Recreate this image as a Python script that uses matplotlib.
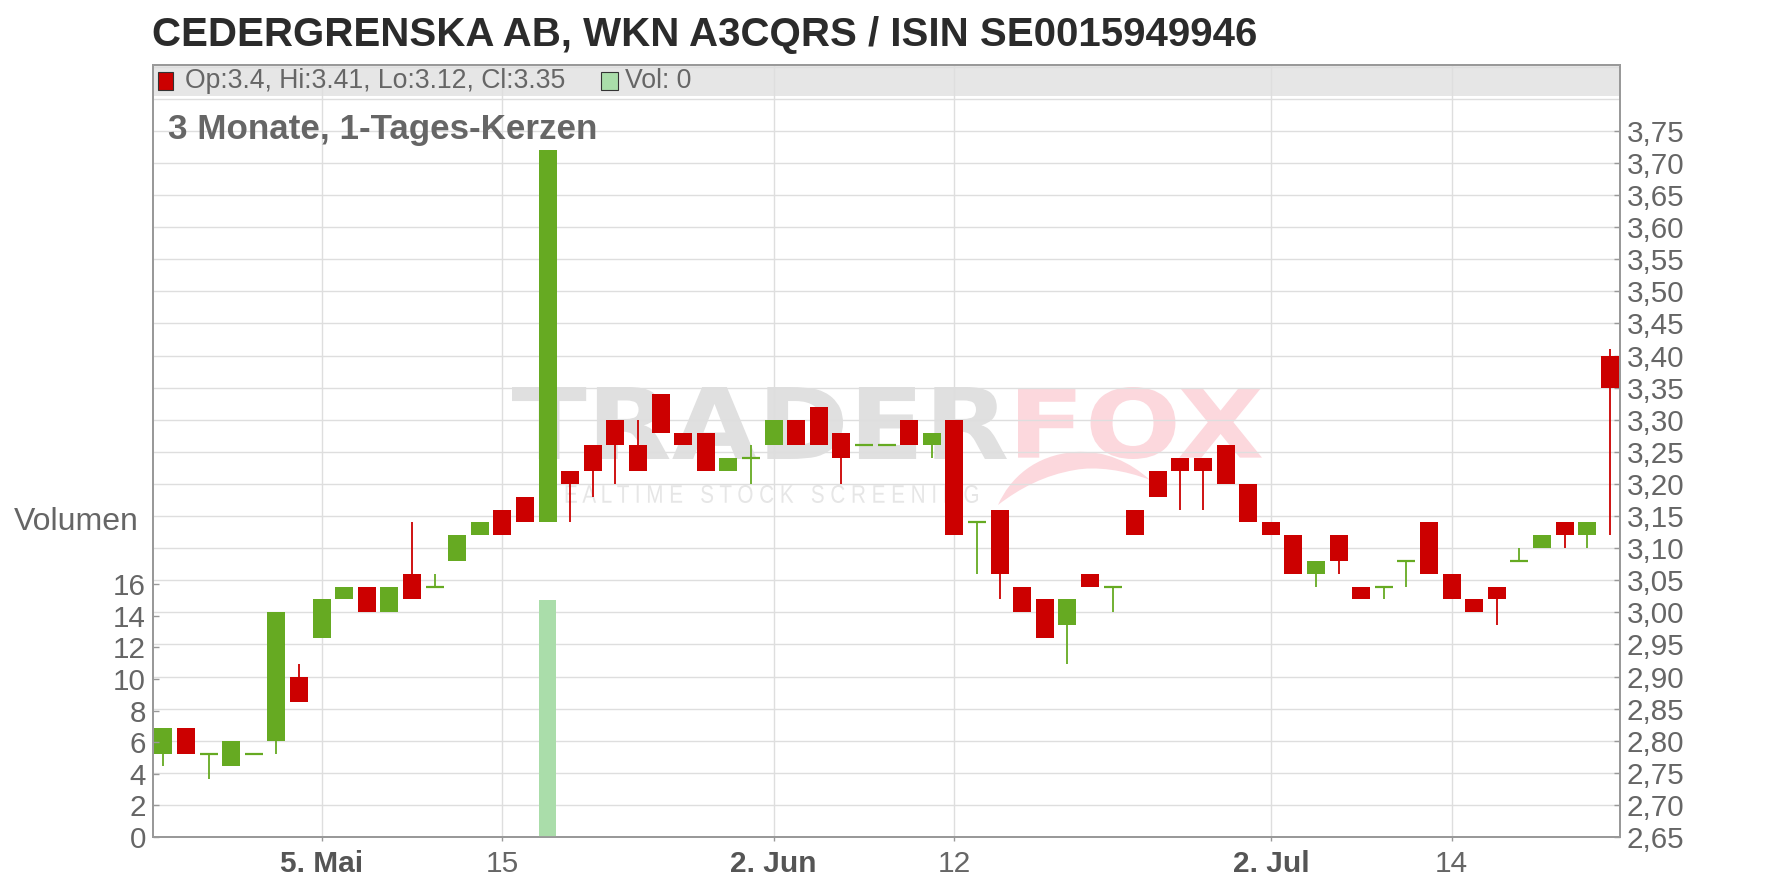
import numpy as np
import pandas as pd
import matplotlib
matplotlib.use("Agg")
import matplotlib.pyplot as plt
from matplotlib.patches import Rectangle, PathPatch
from matplotlib.path import Path
from matplotlib.textpath import TextPath
from matplotlib.font_manager import FontProperties
from matplotlib.transforms import Affine2D, IdentityTransform

plt.rcParams['font.family'] = ['Liberation Sans', 'DejaVu Sans']

# ---------------- data ----------------
title = "CEDERGRENSKA AB, WKN A3CQRS / ISIN SE0015949946"
subtitle = "3 Monate, 1-Tages-Kerzen"
dates = pd.bdate_range("2025-04-24", "2025-07-23")

opens = [2.78, 2.82, 2.78, 2.76, 2.78, 2.80, 2.90, 2.96, 3.02, 3.04,
         3.00, 3.06, 3.04, 3.08, 3.12, 3.16, 3.18, 3.14, 3.22, 3.26,
         3.30, 3.26, 3.34, 3.28, 3.28, 3.22, 3.24, 3.26, 3.30, 3.32,
         3.28, 3.26, 3.26, 3.30, 3.26, 3.30, 3.14, 3.16, 3.04, 3.02,
         2.98, 3.06, 3.04, 3.16, 3.22, 3.24, 3.24, 3.26, 3.20, 3.14,
         3.12, 3.06, 3.12, 3.04, 3.04, 3.08, 3.14, 3.06, 3.02, 3.04,
         3.08, 3.10, 3.14, 3.12, 3.40]
highs = [2.82, 2.82, 2.78, 2.80, 2.78, 3.00, 2.92, 3.02, 3.04, 3.04,
         3.04, 3.14, 3.06, 3.12, 3.14, 3.16, 3.18, 3.72, 3.22, 3.26,
         3.30, 3.30, 3.34, 3.28, 3.28, 3.24, 3.26, 3.30, 3.30, 3.32,
         3.28, 3.26, 3.26, 3.30, 3.28, 3.30, 3.14, 3.16, 3.04, 3.02,
         3.02, 3.06, 3.04, 3.16, 3.22, 3.24, 3.24, 3.26, 3.20, 3.14,
         3.12, 3.08, 3.12, 3.04, 3.04, 3.08, 3.14, 3.06, 3.02, 3.04,
         3.10, 3.12, 3.14, 3.14, 3.41]
lows = [2.76, 2.78, 2.74, 2.76, 2.78, 2.78, 2.86, 2.96, 3.02, 3.00,
        3.00, 3.02, 3.04, 3.08, 3.12, 3.12, 3.14, 3.14, 3.14, 3.18,
        3.20, 3.22, 3.28, 3.26, 3.22, 3.22, 3.20, 3.26, 3.26, 3.26,
        3.20, 3.26, 3.26, 3.26, 3.24, 3.12, 3.06, 3.02, 3.00, 2.96,
        2.92, 3.04, 3.00, 3.12, 3.18, 3.16, 3.16, 3.20, 3.14, 3.12,
        3.06, 3.04, 3.06, 3.02, 3.02, 3.04, 3.06, 3.02, 3.00, 2.98,
        3.08, 3.10, 3.10, 3.10, 3.12]
closes = [2.82, 2.78, 2.78, 2.80, 2.78, 3.00, 2.86, 3.02, 3.04, 3.00,
          3.04, 3.02, 3.04, 3.12, 3.14, 3.12, 3.14, 3.72, 3.20, 3.22,
          3.26, 3.22, 3.28, 3.26, 3.22, 3.24, 3.24, 3.30, 3.26, 3.26,
          3.24, 3.26, 3.26, 3.26, 3.28, 3.12, 3.14, 3.06, 3.00, 2.96,
          3.02, 3.04, 3.04, 3.12, 3.18, 3.22, 3.22, 3.20, 3.14, 3.12,
          3.06, 3.08, 3.08, 3.02, 3.04, 3.08, 3.06, 3.02, 3.00, 3.02,
          3.08, 3.12, 3.12, 3.14, 3.35]
volumes = [0] * 17 + [15] + [0] * 47

tick_dates = ["2025-05-05", "2025-05-15", "2025-06-02", "2025-06-12", "2025-07-02", "2025-07-14"]
tick_labels = ["5. Mai", "15", "2. Jun", "12", "2. Jul", "14"]
tick_bold = [True, False, True, False, True, False]

price_ticks = [2.65, 2.70, 2.75, 2.80, 2.85, 2.90, 2.95, 3.00, 3.05, 3.10, 3.15,
               3.20, 3.25, 3.30, 3.35, 3.40, 3.45, 3.50, 3.55, 3.60, 3.65, 3.70, 3.75]
vol_ticks = [0, 2, 4, 6, 8, 10, 12, 14, 16]

# ---------------- styling ----------------
W, H = 1776, 888
GREEN = "#66aa22"
RED = "#cc0000"
VOLC = "#aaddaa"
GRID = "#dedede"
AXC = "#999999"
TXT = "#666666"

fig = plt.figure(figsize=(W / 100, H / 100), dpi=100)
L, R, T, B = 153, 1620, 65, 837
ax = fig.add_axes([L / W, (H - B) / H, (R - L) / W, (B - T) / H])
axv = ax.twinx()

o = np.array(opens); h = np.array(highs); l = np.array(lows); c = np.array(closes)
x = np.arange(len(o))
up = c >= o
cols = np.where(up, GREEN, RED)

ax.set_xlim(-0.46, 64.45)
ax.set_ylim(2.65, 2.65 + (B - T) / 642.0)
ax.set_axisbelow(True)

# wicks
ax.vlines(x, l, h, colors=cols, lw=1.3, zorder=2)
# bodies
body = np.abs(c - o)
ax.bar(x, body, bottom=np.minimum(o, c), width=0.8, color=cols, zorder=3, linewidth=0)
doji = body == 0
ax.hlines(o[doji], x[doji] - 0.4, x[doji] + 0.4, colors=cols[doji], lw=1.6, zorder=3)

# volume
axv.bar(x, volumes, width=0.72, color=VOLC, linewidth=0, zorder=2)
axv.set_ylim(0, (B - T) / 15.81)

# grid
grid_levels = np.round(np.arange(2.65, 3.851, 0.05), 2)
for g in grid_levels:
    ax.axhline(g, color=GRID, lw=1.0, zorder=0.5)
tick_idx = [int(np.where(dates == pd.Timestamp(d))[0][0]) for d in tick_dates]
for ti in tick_idx:
    ax.axvline(ti, color=GRID, lw=1.0, zorder=0.5)

# price axis on right
ax.yaxis.tick_right()
ax.set_yticks(price_ticks)
ax.set_yticklabels([f"{p:.2f}".replace(".", ",") for p in price_ticks])
ax.tick_params(axis='y', direction='in', length=4, width=1, color=AXC,
               labelsize=21.3, labelcolor=TXT, pad=5)

# volume axis on left
axv.yaxis.tick_left()
axv.set_yticks(vol_ticks)
axv.tick_params(axis='y', direction='in', length=4, width=1, color=AXC,
                labelsize=21.3, labelcolor=TXT, pad=5)

# x axis
ax.set_xticks(tick_idx)
ax.set_xticklabels(tick_labels)
ax.tick_params(axis='x', direction='out', length=3, width=1, color=AXC,
               labelsize=21.5, labelcolor=TXT, pad=6)
for lab, b in zip(ax.get_xticklabels(), tick_bold):
    if b:
        lab.set_fontweight('bold')
        lab.set_color("#555555")
axv.tick_params(axis='x', length=0)

for a in (ax, axv):
    for s in a.spines.values():
        s.set_color(AXC)
        s.set_linewidth(1.3)

# legend band
ax.add_patch(Rectangle((0, (B - 96) / (B - T)), 1, (96 - T) / (B - T),
                       transform=ax.transAxes, facecolor="#e6e6e6",
                       edgecolor='none', zorder=0.3))


def fx(px):
    return px / W


def fy(py):
    return 1 - py / H


fig.patches.append(Rectangle((fx(158), fy(90)), 15 / W, 18 / H, transform=fig.transFigure,
                             facecolor=RED, edgecolor="#333333", lw=0.8, zorder=5))
fig.patches.append(Rectangle((fx(601), fy(90)), 17 / W, 18 / H, transform=fig.transFigure,
                             facecolor=VOLC, edgecolor="#333333", lw=0.8, zorder=5))
fig.text(fx(185), fy(81), f"Op:{opens[-1]:g}, Hi:{highs[-1]:g}, Lo:{lows[-1]:g}, Cl:{closes[-1]:g}",
         fontsize=19.2, color=TXT, va='center', ha='left')
fig.text(fx(625), fy(81), f"Vol: {volumes[-1]}", fontsize=19.2, color=TXT, va='center', ha='left')

# titles
fig.text(fx(152), fy(35), title, fontsize=29, fontweight='bold', color="#2b2b2b",
         va='center', ha='left')
fig.text(fx(168), fy(129), subtitle, fontsize=25.2, fontweight='bold', color=TXT,
         va='center', ha='left')
fig.text(fx(139), fy(522), "Volumen", fontsize=23, color=TXT, va='center', ha='right')


# watermark
def fit_text(s, x0, y0, x1, y1, color, family='DejaVu Sans', weight='bold'):
    tp = TextPath((0, 0), s, size=100, prop=FontProperties(family=family, weight=weight))
    bb = tp.get_extents()
    sx = (x1 - x0) / bb.width
    sy = (y1 - y0) / bb.height
    tr = Affine2D().translate(-bb.x0, -bb.y0).scale(sx, sy).translate(x0, H - y1)
    patch = PathPatch(tr.transform_path(tp), facecolor=color, edgecolor='none',
                      transform=IdentityTransform(), zorder=0.35)
    ax.add_artist(patch)


fit_text("TRADER", 512, 387, 1007, 459, "#e0e0e0")
fit_text("FOX", 1018, 387, 1262, 459, "#fcd8dd")
fit_text("R E A L T I M E   S T O C K   S C R E E N I N G", 545, 485, 978, 503, "#e6e6e6",
         family='Liberation Sans', weight='normal')

# fox-tail swoosh of the logo
pts = [(998, 505), (1010, 478), (1035, 455), (1075, 452),
       (1105, 450), (1130, 462), (1150, 480),
       (1125, 470), (1095, 466), (1075, 470),
       (1045, 475), (1020, 488), (998, 505), (998, 505)]
codes = [Path.MOVETO, Path.CURVE4, Path.CURVE4, Path.CURVE4,
         Path.CURVE4, Path.CURVE4, Path.CURVE4,
         Path.CURVE4, Path.CURVE4, Path.CURVE4,
         Path.CURVE4, Path.CURVE4, Path.CURVE4, Path.CLOSEPOLY]
swoosh = Path([(px_, H - py_) for px_, py_ in pts], codes)
ax.add_artist(PathPatch(swoosh, facecolor="#fcd8dd", edgecolor='none',
                        transform=IdentityTransform(), zorder=0.35))

fig.savefig("out.png", dpi=100, facecolor="white")
